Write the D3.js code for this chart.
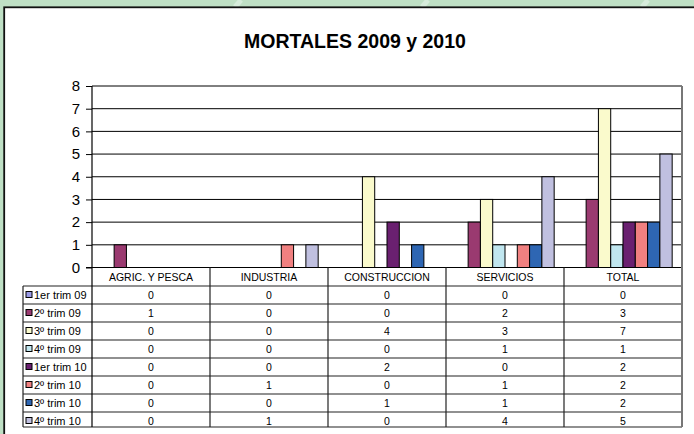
<!DOCTYPE html>
<html>
<head>
<meta charset="utf-8">
<script src="https://cdn.jsdelivr.net/npm/d3@7"></script>
<style>
  body { margin: 0; background: #bfe0c5; }
  svg { display: block; font-family: "Liberation Sans", Arial, sans-serif; }
</style>
</head>
<body>
<svg id="chart" width="694" height="434"></svg>
<script>
const categories = ["AGRIC. Y PESCA", "INDUSTRIA", "CONSTRUCCION", "SERVICIOS", "TOTAL"];
const seriesNames = ["1er trim 09", "2º trim 09", "3º trim 09", "4º trim 09",
                     "1er trim 10", "2º trim 10", "3º trim 10", "4º trim 10"];
const seriesColors = ["#9a9ae6", "#9a3a70", "#fafacc", "#c0e6ef",
                      "#6a2070", "#f08080", "#2e66b3", "#c0c0e0"];
// one row per series, one value per category
const t109 = [0, 0, 0, 0, 0];
const t209 = [1, 0, 0, 2, 3];
const t309 = [0, 0, 4, 3, 7];
const t409 = [0, 0, 0, 1, 1];
const t110 = [0, 0, 2, 0, 2];
const t210 = [0, 1, 0, 1, 2];
const t310 = [0, 0, 1, 1, 2];
const t410 = [0, 1, 0, 4, 5];
const seriesValues = [t109, t209, t309, t409, t110, t210, t310, t410];
const yTicks = [0, 1, 2, 3, 4, 5, 6, 7, 8];

const plot_left = 92, plot_right = 682;
const plot_top = 86, plot_bottom = 267.5;
const table_left = 23, row_h = 18, table_bottom = 427;

var svg = d3.select("#chart");

// green backdrop with a few faint streaks
svg.append("rect").attr("width", 694).attr("height", 434).attr("fill", "#bfe0c5");
[235, 422, 642].forEach((sx) => {
    svg.append("line")
        .attr("x1", sx + 6).attr("y1", 0).attr("x2", sx).attr("y2", 7)
        .attr("stroke", "#d6ecdb").attr("stroke-width", 5);
});

// white panel
svg.append("rect")
    .attr("x", 4.2).attr("y", 7.3)
    .attr("width", 720).attr("height", 460)
    .attr("fill", "#fff").attr("stroke", "#111").attr("stroke-width", 1.8);

svg.append("text")
    .attr("x", 355).attr("y", 48)
    .attr("text-anchor", "middle")
    .attr("font-size", 19.5).attr("font-weight", "bold")
    .text("MORTALES 2009 y 2010");

var y = d3.scaleLinear().domain([0, 8]).range([plot_bottom, plot_top]);
var x0 = d3.scaleBand().domain(categories).range([plot_left, plot_right]);
var x1 = d3.scaleBand().domain(seriesNames).range([0, x0.bandwidth()])
    .paddingInner(0).paddingOuter(0.8);

// gridlines
svg.append("g").selectAll("line")
    .data(yTicks.slice(1))
    .enter().append("line")
    .attr("x1", plot_left).attr("x2", plot_right)
    .attr("y1", (d) => y(d)).attr("y2", (d) => y(d))
    .attr("stroke", "#000").attr("stroke-width", 1);

// bars
var groups = svg.append("g").selectAll("g")
    .data(seriesNames)
    .enter().append("g")
    .attr("fill", (d, i) => seriesColors[i]);

groups.selectAll("rect")
    .data((d, i) => seriesValues[i].map((v, j) => ({ s: d, cat: categories[j], v: v })).filter((e) => e.v > 0))
    .enter().append("rect")
    .attr("x", (d) => x0(d.cat) + x1(d.s))
    .attr("y", (d) => y(d.v))
    .attr("width", x1.bandwidth())
    .attr("height", (d) => y(0) - y(d.v))
    .attr("stroke", "#000").attr("stroke-width", 1);

// y axis
var yAxis = svg.append("g")
    .attr("transform", "translate(" + plot_left + ",0)")
    .call(d3.axisLeft(y).tickValues(yTicks).tickSize(6).tickPadding(6).tickFormat(d3.format("d")));
yAxis.select(".domain").remove();
yAxis.selectAll("line").attr("stroke", "#000");
yAxis.selectAll("text").attr("font-size", 15).attr("fill", "#000")
    .attr("font-family", "Liberation Sans, Arial, sans-serif");

// data table
var rows = d3.scaleBand().domain(seriesNames).range([plot_bottom + 18.5, plot_bottom + 18.5 + row_h * seriesNames.length]);
var tbl = svg.append("g");

// header labels
tbl.selectAll("text.head")
    .data(categories)
    .enter().append("text")
    .attr("class", "head")
    .attr("x", (d) => x0(d) + x0.bandwidth() / 2)
    .attr("y", plot_bottom + 13)
    .attr("text-anchor", "middle")
    .attr("font-size", 10.5)
    .text((d) => d);

// horizontal table lines
var hLines = seriesNames.map((s) => rows(s));
hLines.push(table_bottom);
tbl.selectAll("line.h")
    .data(hLines)
    .enter().append("line")
    .attr("x1", table_left).attr("x2", plot_right)
    .attr("y1", (d) => d).attr("y2", (d) => d)
    .attr("stroke", "#222").attr("stroke-width", 1.2);
tbl.append("line")
    .attr("x1", plot_left - 6).attr("x2", plot_right)
    .attr("y1", plot_bottom).attr("y2", plot_bottom)
    .attr("stroke", "#000").attr("stroke-width", 1.2);

// vertical table lines
tbl.selectAll("line.v")
    .data(categories.slice(1))
    .enter().append("line")
    .attr("x1", (d) => x0(d)).attr("x2", (d) => x0(d))
    .attr("y1", plot_bottom).attr("y2", table_bottom)
    .attr("stroke", "#222").attr("stroke-width", 1.2);
tbl.append("line")
    .attr("x1", plot_left).attr("x2", plot_left)
    .attr("y1", plot_top).attr("y2", table_bottom)
    .attr("stroke", "#000").attr("stroke-width", 1.2);
tbl.append("line")
    .attr("x1", table_left).attr("x2", table_left)
    .attr("y1", rows(seriesNames[0])).attr("y2", table_bottom)
    .attr("stroke", "#222").attr("stroke-width", 1.2);
tbl.append("line")
    .attr("x1", plot_right).attr("x2", plot_right)
    .attr("y1", plot_top).attr("y2", table_bottom)
    .attr("stroke", "#777").attr("stroke-width", 2);

// legend keys and names
var rowG = tbl.selectAll("g.row")
    .data(seriesNames)
    .enter().append("g")
    .attr("transform", (d) => "translate(0," + (rows(d) + row_h / 2) + ")");

rowG.append("rect")
    .attr("x", 26).attr("y", -3.5)
    .attr("width", 6).attr("height", 6)
    .attr("fill", (d, i) => seriesColors[i])
    .attr("stroke", "#000").attr("stroke-width", 1);

rowG.append("text")
    .attr("x", 34).attr("y", 4)
    .attr("font-size", 11)
    .text((d) => d);

rowG.selectAll("text.val")
    .data((d, i) => seriesValues[i].map((v, j) => ({ cat: categories[j], v: v })))
    .enter().append("text")
    .attr("class", "val")
    .attr("x", (d) => x0(d.cat) + x0.bandwidth() / 2)
    .attr("y", 3.5)
    .attr("text-anchor", "middle")
    .attr("font-size", 10.5)
    .text((d) => d.v);
</script>
</body>
</html>
